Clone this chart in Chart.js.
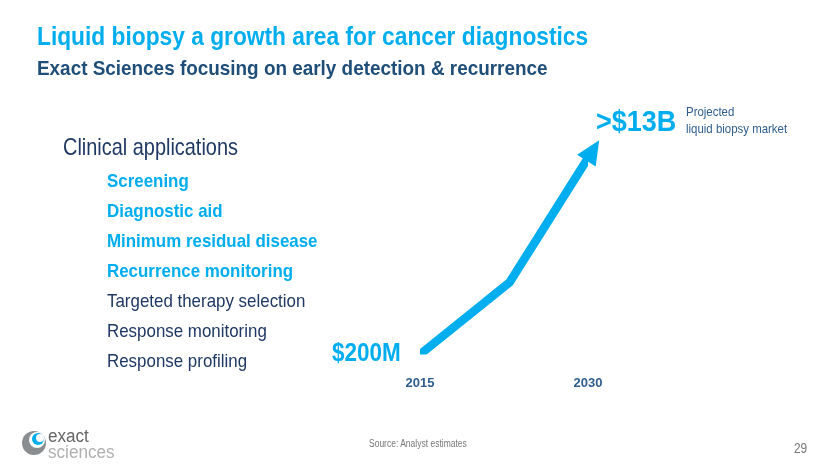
<!DOCTYPE html>
<html>
<head>
<meta charset="utf-8">
<script src="https://cdn.jsdelivr.net/npm/chart.js@4/dist/chart.umd.min.js"></script>
<style>
  html, body { margin: 0; padding: 0; background: #fff; }
  #wrap { position: relative; width: 830px; height: 467px; overflow: hidden;
    font-family: "Liberation Sans", Arial, sans-serif; }
  #mkt { position: absolute; left: 0; top: 0; }
  .t { position: absolute; white-space: nowrap; line-height: 1; transform-origin: 0 0; }
  .cyan { color: #00aeef; }
  .navy { color: #1f4e79; }
</style>
</head>
<body>
<div id="wrap">
  <canvas id="mkt" width="830" height="467"></canvas>

  <div class="t cyan" style="left:37px;top:24px;font-size:25px;font-weight:bold;transform:scaleX(0.91);">Liquid biopsy a growth area for cancer diagnostics</div>
  <div class="t navy" style="left:37px;top:57px;font-size:21px;font-weight:bold;transform:scaleX(0.9);">Exact Sciences focusing on early detection &amp; recurrence</div>

  <div class="t" style="left:63px;top:135px;font-size:24px;color:#1f3864;transform:scaleX(0.83);">Clinical applications</div>
  <div id="apps"></div>

  <div class="t cyan" style="left:332px;top:340px;font-size:25px;font-weight:bold;transform:scaleX(0.9);">$200M</div>
  <div class="t cyan" style="left:596px;top:106px;font-size:30px;font-weight:bold;transform:scaleX(0.9);">&gt;$13B</div>
  <div class="t" style="left:686px;top:104px;font-size:13px;color:#2e5d8e;line-height:16.7px;transform:scaleX(0.88);">Projected<br>liquid biopsy market</div>

  <svg style="position:absolute;left:20px;top:428px" width="30" height="30" viewBox="0 0 30 30">
    <circle cx="14" cy="15" r="12" fill="#8a8d90"/>
    <circle cx="17" cy="12" r="8" fill="#fff"/>
    <circle cx="18" cy="11" r="6" fill="#00aeef"/>
    <circle cx="20" cy="10" r="4" fill="#fff"/>
  </svg>
  <div class="t" style="left:48px;top:427px;font-size:18px;color:#666;transform:scaleX(0.95);">exact</div>
  <div class="t" style="left:48px;top:443px;font-size:18px;color:#b0b0b0;transform:scaleX(0.95);">sciences</div>

  <div class="t" style="left:369px;top:439px;font-size:10px;color:#777;transform:scaleX(0.85);">Source: Analyst estimates</div>
  <div class="t" style="left:794px;top:441px;font-size:14px;color:#777;transform:scaleX(0.85);">29</div>
</div>
<script>
// list on the left
const apps = ['Screening', 'Diagnostic aid', 'Minimum residual disease', 'Recurrence monitoring',
  'Targeted therapy selection', 'Response monitoring', 'Response profiling'];
const focusApps = 4; // first ones are highlighted
let html = '';
apps.forEach(function (a, i) {
  let st = i < focusApps ? 'color:#00aeef;font-weight:bold;' : 'color:#1f3864;';
  html += '<div class="t" style="left:107px;top:' + (171 + i * 29.95) + 'px;font-size:19px;transform:scaleX(0.89);' + st + '">' + a + '</div>';
});
document.getElementById('apps').innerHTML = html;

// market growth, $B
const years = [2015, 2023, 2030];
const marketB = [0.2, 4.9, 13];
const yearTicks = [2015, 2030];

const arrowHead = {
  id: 'arrowHead',
  afterDatasetsDraw(chart) {
    const pts = chart.getDatasetMeta(0).data;
    const a = pts[pts.length - 2], b = pts[pts.length - 1];
    const ang = Math.atan2(b.y - a.y, b.x - a.x);
    const c = chart.ctx;
    c.save();
    c.translate(b.x, b.y);
    c.rotate(ang);
    c.fillStyle = '#00aeef';
    c.beginPath();
    c.moveTo(21, 0);
    c.lineTo(-3, -11);
    c.lineTo(-3, 11);
    c.closePath();
    c.fill();
    c.restore();
  }
};

new Chart(document.getElementById('mkt'), {
  type: 'line',
  data: {
    datasets: [{
      data: years.map((y, i) => ({ x: y, y: marketB[i] })),
      borderColor: '#00aeef',
      borderWidth: 8.5,
      borderCapStyle: 'round',
      borderJoinStyle: 'miter',
      pointRadius: 0,
      tension: 0,
    }],
  },
  options: {
    responsive: false,
    animation: false,
    events: [],
    layout: { padding: { left: 420, right: 242, top: 158, bottom: 55 } },
    plugins: { legend: { display: false }, tooltip: { enabled: false } },
    scales: {
      x: {
        type: 'linear',
        min: 2015,
        max: 2030,
        grid: { display: false, drawTicks: false },
        border: { display: false },
        afterBuildTicks: function (ax) {
          ax.ticks = yearTicks.map(v => ({ value: v }));
        },
        ticks: {
          padding: 21,
          maxRotation: 0,
          color: '#2e5d8e',
          font: { family: 'Liberation Sans', size: 13, weight: 'bold' },
          callback: v => String(v),
        },
      },
      y: { display: false, min: 0.2, max: 13 },
    },
  },
  plugins: [arrowHead],
});
</script>
</body>
</html>
